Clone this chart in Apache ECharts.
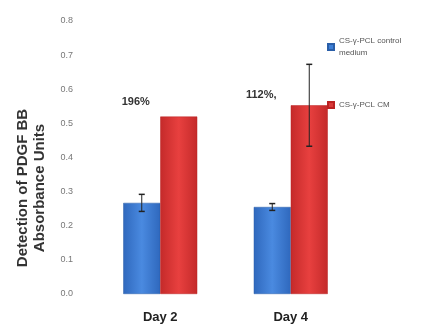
<!DOCTYPE html>
<html><head><meta charset="utf-8">
<script src="https://cdn.jsdelivr.net/npm/echarts@6/dist/echarts.min.js"></script>
<style>html,body{margin:0;padding:0;background:#fff}#c{width:431px;height:329px}</style>
</head><body><div id="c"></div>
<script>
const categories = ['Day 2', 'Day 4'];
const seriesNames = ['CS-γ-PCL control\nmedium', 'CS-γ-PCL CM'];
const controlValues = [0.267, 0.255];
const controlErrors = [0.025, 0.01];
const cmValues = [0.52, 0.553];
const cmErrors = [0.0, 0.12];
const percentLabels = ['196%', '112%,'];
const yTicks = [0, 0.1, 0.2, 0.3, 0.4, 0.5, 0.6, 0.7, 0.8];

const chart = echarts.init(document.getElementById('c'));
function grad(c1, c2) {
  return new echarts.graphic.LinearGradient(0, 0, 1, 0, [
    {offset: 0, color: c2}, {offset: 0.5, color: c1}, {offset: 1, color: c2}
  ]);
}
function errSeries(vals, errs, idx) {
  return {
    type: 'custom',
    z: 10,
    data: vals.map((v, i) => [i, v - errs[i], v + errs[i]]),
    renderItem: function (params, api) {
      const lo = api.coord([api.value(0), api.value(1)]);
      const hi = api.coord([api.value(0), api.value(2)]);
      const x = lo[0] + (idx === 0 ? -1 : 1) * 18.5;
      if (hi[1] === lo[1]) return null;
      return {type: 'group', children: [
        {type: 'line', shape: {x1: x, y1: hi[1], x2: x, y2: lo[1]}, style: {stroke: '#222', lineWidth: 1}},
        {type: 'line', shape: {x1: x - 3, y1: hi[1], x2: x + 3, y2: hi[1]}, style: {stroke: '#222', lineWidth: 1.5}},
        {type: 'line', shape: {x1: x - 3, y1: lo[1], x2: x + 3, y2: lo[1]}, style: {stroke: '#222', lineWidth: 1.5}}
      ]};
    }
  };
}
const labelOffsets = [[-43, -4], [-48, 0]];
chart.setOption({
  animation: false,
  grid: {left: 95, right: 75, top: 21, bottom: 35},
  legend: {
    orient: 'vertical', left: 322, top: 30, itemGap: 40,
    itemWidth: 6, itemHeight: 6, icon: 'rect',
    textStyle: {fontSize: 8, color: '#555', fontFamily: 'Liberation Sans', lineHeight: 12},
    data: [
      {name: seriesNames[0], itemStyle: {color: '#3d7fd6'}},
      {name: seriesNames[1], itemStyle: {color: '#d93a3a'}}
    ]
  },
  xAxis: {
    type: 'category', data: categories,
    axisLine: {show: false}, axisTick: {show: false},
    axisLabel: {margin: 17, fontSize: 13, fontWeight: 'bold', color: '#222', fontFamily: 'Liberation Sans'}
  },
  yAxis: {
    type: 'value', min: 0, max: 0.8, interval: 0.1,
    axisLine: {show: false}, axisTick: {show: false}, splitLine: {show: false},
    axisLabel: {margin: 22, fontSize: 9, color: '#777', fontFamily: 'Liberation Sans',
      formatter: v => v.toFixed(1)}
  },
  graphic: [
    {type: 'text', x: 23, y: 188, rotation: Math.PI / 2,
      style: {text: 'Detection of PDGF BB', fill: '#333', font: 'bold 15px Liberation Sans', align: 'center', verticalAlign: 'middle'}},
    {type: 'text', x: 40, y: 188, rotation: Math.PI / 2,
      style: {text: 'Absorbance Units', fill: '#333', font: 'bold 15px Liberation Sans', align: 'center', verticalAlign: 'middle'}}
  ],
  series: [
    {name: seriesNames[0], type: 'bar', data: controlValues, barWidth: 37, barGap: '0%',
      itemStyle: {color: grad('#4a8ae0', '#2f68bd'), borderColor: '#2a5ea8', borderWidth: 0.5}},
    {name: seriesNames[1], type: 'bar', data: cmValues.map((v, i) => ({
        value: v,
        label: {show: true, position: 'top', offset: labelOffsets[i], formatter: percentLabels[i],
          fontSize: 11, fontWeight: 'bold', color: '#333', fontFamily: 'Liberation Sans'}
      })), barWidth: 37,
      itemStyle: {color: grad('#e8403f', '#c42a2a'), borderColor: '#b22', borderWidth: 0.5}},
    errSeries(controlValues, controlErrors, 0),
    errSeries(cmValues, cmErrors, 1)
  ]
});
</script></body></html>
